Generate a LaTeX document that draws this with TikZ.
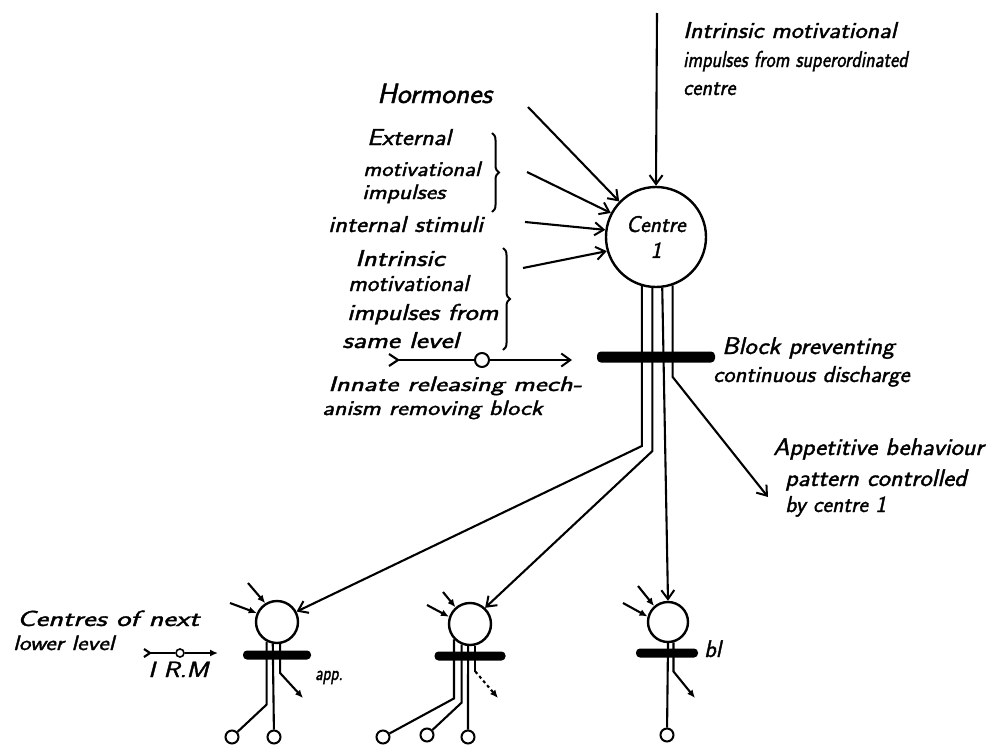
\documentclass[tikz,border=0pt]{standalone}
\usepackage{fontspec}
\usepackage{graphicx}
\setsansfont{lmsans17-regular.otf}[ItalicFont=lmsans17-oblique.otf, FakeBold=1.5]
\usetikzlibrary{arrows.meta,decorations.pathreplacing}
% widen a handwritten-looking line of text horizontally
\newcommand{\wide}[2]{\scalebox{#1}[1]{#2}}
\begin{document}
\begin{tikzpicture}[x=1pt,y=-1pt,
  lab/.style={font=\fontsize{#1}{#1}\selectfont\sffamily\itshape, inner sep=0pt, anchor=base west},
  lab/.default=24,
  centre/.style={circle, draw, line width=2.4pt, inner sep=0pt, minimum size=#1},
  ring/.style={circle, draw, line width=2pt, inner sep=0pt, minimum size=13pt, fill=white},
  wire/.style={line width=2.1pt},
  barb/.style={-{Straight Barb[length=9pt,width=13pt,line width=2pt]}},
  dart/.style={-{Latex[length=8pt,width=7pt]}},
  blockbar/.style={fill=black, rounded corners=4pt, inner sep=0pt, minimum height=#1},
  tailbrace/.style={line width=2pt, decorate, decoration={brace, amplitude=7pt}},
]
\useasboundingbox (0,0) rectangle (994,747);

% ---------- centre 1 ----------
\node[centre=100pt, align=center, font=\fontsize{23}{26}\selectfont\sffamily\itshape] (c1) at (656,237) {Centre\\1};

% incoming impulses
\coordinate (topIn) at (657,13);
\coordinate (horIn) at (528,107);
\coordinate (extIn) at (527,172);
\coordinate (insIn) at (525,222);
\coordinate (ownIn) at (523,268);
\draw[wire,barb] (topIn) -- (c1.north);
\draw[wire,barb] (horIn) -- (c1.136);
\draw[wire,barb] (extIn) -- (c1.152);
\draw[wire,barb] (insIn) -- (c1.172);
\draw[wire,barb] (ownIn) -- (c1.196);

% labels of the inputs
\node[lab=23] (sup1) at (683,38) {\wide{1.12}{Intrinsic motivational}};
\node[lab=23] (sup2) at (683,67) {\wide{0.85}{impulses from superordinated}};
\node[lab=23] (sup3) at (683,95) {\wide{0.95}{centre}};
\node[lab=28] (hor) at (377,103) {\wide{1.05}{Hormones}};
\node[lab=23] (ext1) at (367,145) {\wide{1.13}{External}};
\node[lab=21] (ext2) at (363,176) {\wide{1.15}{motivational}};
\node[lab=21] (ext3) at (362,199) {\wide{1.2}{impulses}};
\node[lab=23] (ins) at (328,232) {\wide{1.15}{internal stimuli}};
\node[lab=23] (own1) at (355,266) {\wide{1.25}{Intrinsic}};
\node[lab=23] (own2) at (348,291) {\wide{1.08}{motivational}};
\node[lab=23] (own3) at (347,320) {\wide{1.21}{impulses from}};
\node[lab=23] (own4) at (342,348) {\wide{1.27}{same level}};
\draw[tailbrace] (492,133) -- (492,212);
\draw[tailbrace] (503,248) -- (503,350);

% innate releasing mechanism
\coordinate (irmS) at (398,360);
\coordinate (irmE) at (572,360);
\node[ring, minimum size=14pt] (irm) at (482,360) {};
\draw[wire] (irmS) ++(-9,-6) -- (irmS) -- ++(-9,6);
\draw[wire] (irmS) -- (irm);
\draw[wire,barb] (irm) -- (irmE);
\node[lab=21] (rel1) at (328,391) {\wide{1.37}{Innate releasing mech-}};
\node[lab=21] (rel2) at (322,415) {\wide{1.23}{anism removing block}};

% block and appetitive behaviour
\node[lab=24] (blkt1) at (722,354) {\wide{1.09}{Block preventing}};
\node[lab=23] (blkt2) at (713,382) {\wide{1.05}{continuous discharge}};
\node[lab=24] (app1) at (773,455) {\wide{1.08}{Appetitive behaviour}};
\node[lab=24] (app2) at (785,486) {\wide{1.08}{pattern controlled}};
\node[lab=23] (app3) at (785,512) {by centre 1};

% ---------- centres of the next lower level ----------
\node[centre=42pt] (cA) at (277,622) {};
\node[centre=42pt] (cB) at (470,624) {};
\node[centre=40pt] (cC) at (668,622) {};

% discharge lines of centre 1
\coordinate (k1) at (0,446);
\coordinate (k2) at (0,451);
\coordinate (k4) at (0,377);
\coordinate (appTip) at (768,497);
\draw[wire,barb] (c1.254) -- (c1.254 |- k1) -- (cA.28);
\draw[wire,barb] (c1.266) -- (c1.266 |- k2) -- (cB.47);
\draw[wire,barb] (c1.277) -- (cC.north);
\draw[wire,barb] (c1.289) -- (c1.289 |- k4) -- (appTip);
\node[blockbar=11pt, minimum width=118pt] (blk1) at (656,357) {};

% centre A
\coordinate (aIn1) at (248,583);
\coordinate (aIn2) at (230,603);
\draw[wire,dart] (aIn1) -- (cA.122);
\draw[wire,dart] (aIn2) -- (cA.156);
\node[ring] (oA1) at (232,737) {};
\node[ring] (oA2) at (274,737) {};
\coordinate (aTip) at (303,698);
\draw[wire] (cA.242) -- ++(0,63) -- (oA1);
\draw[wire] (cA.259) -- (oA2);
\draw[wire,dart] (cA.278) -- ++(0,29) -- (aTip);
\node[blockbar=9pt, minimum width=68pt] (bA) at (277,655) {};
\node[lab=21] (appl) at (315,680) {\wide{0.78}{app.}};

% centre B
\coordinate (bIn1) at (443,592);
\coordinate (bIn2) at (427,605);
\draw[wire,dart] (bIn1) -- (cB.131);
\draw[wire,dart] (bIn2) -- (cB.161);
\node[ring] (oB1) at (383,737) {};
\node[ring] (oB2) at (427,735) {};
\node[ring] (oB3) at (468,737) {};
\coordinate (bTip) at (498,698);
\draw[wire] (cB.224) -- ++(0,59) -- (oB1);
\draw[wire] (cB.248) -- ++(0,58) -- (oB2);
\draw[wire] (cB.265) -- (oB3);
\draw[wire] (cB.284) -- ++(0,26) coordinate (b4k);
\draw[wire,dashed,dart] (b4k) -- (bTip);
\node[blockbar=9pt, minimum width=71pt] (bB) at (470,656) {};

% centre C
\coordinate (cIn1) at (638,586);
\coordinate (cIn2) at (623,603);
\draw[wire,dart] (cIn1) -- (cC.131);
\draw[wire,dart] (cIn2) -- (cC.165);
\node[ring] (oC1) at (667,735) {};
\coordinate (cTip) at (695,698);
\draw[wire] (cC.south) -- (oC1);
\draw[wire,dart] (cC.285) -- ++(0,29) -- (cTip);
\node[blockbar=9pt, minimum width=62pt] (bC) at (667,653) {};
\node[lab=24] (blt) at (704,657) {bl};

% legend of the lower level
\node[lab=22] (low1) at (17,626) {\wide{1.38}{Centres of next}};
\node[lab=21] (low2) at (13,650) {\wide{1.19}{lower level}};
\coordinate (irm2S) at (150,653);
\coordinate (irm2E) at (218,653);
\node[ring, minimum size=8pt, line width=1.6pt] (irm2) at (180,653) {};
\draw[wire] (irm2S) ++(-6,-4) -- (irm2S) -- ++(-6,4);
\draw[wire] (irm2S) -- (irm2);
\draw[wire,dart] (irm2) -- (irm2E);
\node[lab=22] (irmt) at (148,677) {\wide{1.21}{I R.M}};
\end{tikzpicture}
\end{document}
